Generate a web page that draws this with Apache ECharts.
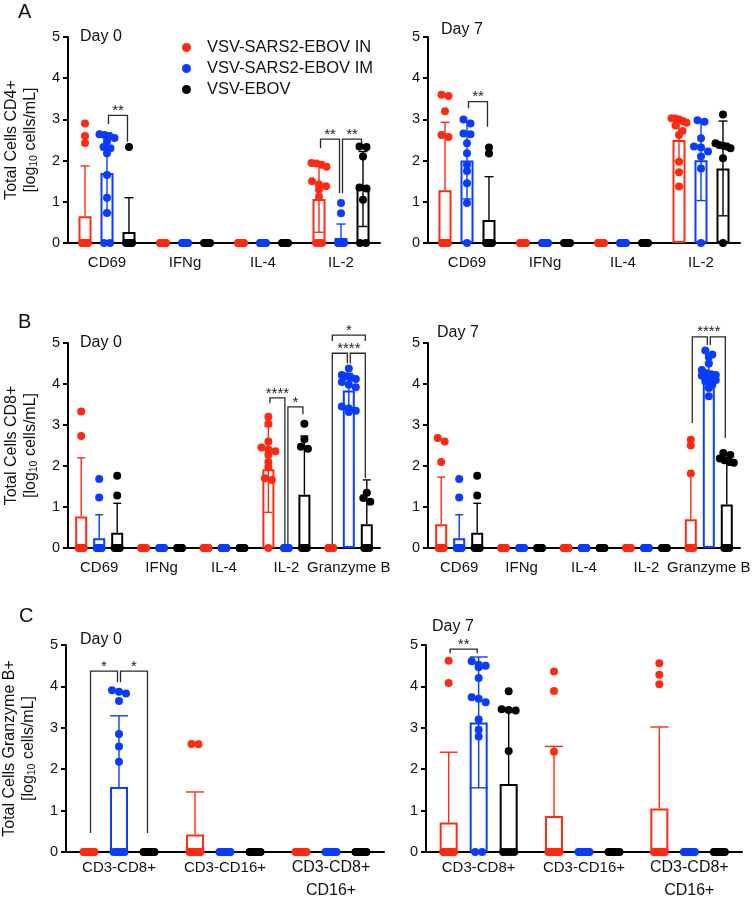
<!DOCTYPE html>
<html>
<head>
<meta charset="utf-8">
<title>Total cells by marker</title>
<script src="https://cdn.jsdelivr.net/npm/echarts@6/dist/echarts.min.js"></script>
<style>
  html, body { margin: 0; padding: 0; background: #fff; }
  #main { width: 754px; height: 900px; }
</style>
</head>
<body>
<div id="main"></div>
<script>
// groups: IN, IM, EBOV
var groupNames = ['VSV-SARS2-EBOV IN', 'VSV-SARS2-EBOV IM', 'VSV-EBOV'];
var groupColors = ['#ff2a12', '#0a3cff', '#000000'];

var catsA = ['CD69', 'IFNg', 'IL-4', 'IL-2'];
var catsB = ['CD69', 'IFNg', 'IL-4', 'IL-2', 'Granzyme B'];
var catsC = ['CD3-CD8+', 'CD3-CD16+', 'CD3-CD8+\nCD16+'];

var yMin = 0, yMax = 5, yStep = 1;

// ---- A, Day 0 ----
var a0Mean = [[0.65, 0, 0, 1.07], [1.70, 0, 0, 0.12], [0.27, 0, 0, 1.31]];
var a0Sd = [[1.22, 0, 0, 0.81], [0.97, 0, 0, 0.34], [0.83, 0, 0, 0.91]];
var a0Pts = [
  [[2.9, 2.6, 2.43, 0, 0, 0, 0, 0, 0, 0, 0, 0], [0, 0, 0, 0, 0, 0, 0, 0, 0, 0, 0, 0], [0, 0, 0, 0, 0, 0, 0, 0, 0, 0, 0, 0], [1.94, 1.93, 1.9, 1.85, 1.5, 1.42, 1.38, 1.3, 1.12, 0, 0, 0]],
  [[2.64, 2.62, 2.6, 2.55, 2.47, 2.33, 2.3, 2.18, 1.65, 1.1, 0.73, 0, 0], [0, 0, 0, 0, 0, 0, 0, 0, 0, 0, 0, 0], [0, 0, 0, 0, 0, 0, 0, 0, 0, 0, 0, 0], [0.97, 0.72, 0, 0, 0, 0, 0, 0, 0, 0, 0, 0]],
  [[2.33, 0, 0, 0, 0, 0, 0, 0, 0], [0, 0, 0, 0, 0, 0, 0, 0], [0, 0, 0, 0, 0, 0, 0, 0], [2.34, 2.33, 2.1, 1.35, 1.32, 1.05, 0, 0]]
];
// [cat, group, cat, group, top, left leg end, right leg end]
var a0Br = [[0, 1, 0, 2, 3.1, 2.89, 2.46], [3, 0, 3, 1, 2.52, 2.3, 1.21], [3, 1, 3, 2, 2.52, 1.21, 2.4]];
// [cat, group position, y, text]
var a0Stars = [[0, 1.5, 3.1, '**'], [3, 0.5, 2.52, '**'], [3, 1.5, 2.52, '**']];

// ---- A, Day 7 ----
var a7Mean = [[1.28, 0, 0, 2.5], [2.0, 0, 0, 2.01], [0.56, 0, 0, 1.81]];
var a7Sd = [[1.65, 0, 0, 0.5], [0.93, 0, 0, 0.98], [1.05, 0, 0, 1.15]];
var a7Pts = [
  [[3.6, 3.57, 3.2, 2.62, 2.57, 0, 0, 0, 0, 0, 0, 0, 0], [0, 0, 0, 0, 0, 0, 0, 0, 0, 0, 0, 0], [0, 0, 0, 0, 0, 0, 0, 0, 0, 0, 0, 0], [3.03, 3.02, 3.0, 2.96, 2.92, 2.85, 2.72, 2.62, 1.97, 1.72, 1.37]],
  [[3.0, 2.9, 2.66, 2.64, 2.42, 2.18, 1.9, 1.75, 1.45, 0.97, 0], [0, 0, 0, 0, 0, 0, 0, 0, 0, 0, 0, 0], [0, 0, 0, 0, 0, 0, 0, 0, 0, 0, 0, 0], [2.98, 2.94, 2.54, 2.34, 2.32, 2.22, 2.1, 1.81, 0]],
  [[2.32, 2.17, 0, 0, 0, 0, 0, 0, 0, 0], [0, 0, 0, 0, 0, 0, 0, 0], [0, 0, 0, 0, 0, 0, 0, 0], [3.12, 2.42, 2.38, 2.36, 2.34, 2.3, 2.06, 0]]
];
var a7Br = [[0, 1, 0, 2, 3.43, 3.27, 2.82]];
var a7Stars = [[0, 1.5, 3.43, '**']];

// ---- B, Day 0 ----
var b0Mean = [[0.77, 0, 0, 1.92, 0], [0.24, 0, 0, 0, 3.84], [0.37, 0, 0, 1.3, 0.58]];
var b0Sd = [[1.43, 0, 0, 1.05, 0], [0.57, 0, 0, 0, 0.42], [0.72, 0, 0, 1.43, 1.08]];
var b0Pts = [
  [[3.33, 2.73, 0, 0, 0, 0, 0, 0, 0, 0, 0], [0, 0, 0, 0, 0, 0, 0, 0, 0, 0, 0, 0], [0, 0, 0, 0, 0, 0, 0, 0, 0, 0, 0, 0], [3.2, 3.03, 2.6, 2.45, 2.4, 2.36, 2.27, 2.1, 1.97, 1.7, 1.66, 0], [0, 0, 0, 0, 0, 0, 0, 0, 0, 0, 0, 0]],
  [[1.68, 1.23, 0, 0, 0, 0, 0, 0, 0, 0, 0], [0, 0, 0, 0, 0, 0, 0, 0, 0, 0, 0, 0], [0, 0, 0, 0, 0, 0, 0, 0, 0, 0, 0, 0], [0, 0, 0, 0, 0, 0, 0, 0, 0, 0, 0, 0], [4.38, 4.22, 4.18, 4.15, 4.12, 4.05, 3.98, 3.92, 3.45, 3.4, 3.35, 3.32]],
  [[1.76, 1.28, 0, 0, 0, 0, 0, 0, 0, 0, 0], [0, 0, 0, 0, 0, 0, 0, 0, 0, 0], [0, 0, 0, 0, 0, 0, 0, 0, 0, 0], [3.03, 2.65, 2.47, 2.42, 0, 0, 0, 0, 0, 0], [1.35, 1.22, 1.13, 0, 0, 0, 0, 0, 0, 0, 0]]
];
var b0Br = [[3, 0, 3, 1, 3.66, 3.53, 0.1], [3, 1, 3, 2, 3.44, 0.1, 3.26], [4, 0, 4, 2, 5.19, 5.05, 5.05], [4, 0, 4, 1, 4.75, 0.1, 4.5], [4, 1, 4, 2, 4.75, 4.5, 1.7]];
var b0Stars = [[3, 0.5, 3.66, '****'], [3, 1.5, 3.44, '*'], [4, 1, 5.19, '*'], [4, 1, 4.75, '****']];

// ---- B, Day 7 ----
var b7Mean = [[0.58, 0, 0, 0, 0.7], [0.24, 0, 0, 0, 4.22], [0.37, 0, 0, 0, 1.06]];
var b7Sd = [[1.15, 0, 0, 0, 1.1], [0.57, 0, 0, 0, 0.3], [0.72, 0, 0, 0, 1.1]];
var b7Pts = [
  [[2.68, 2.6, 2.1, 0, 0, 0, 0, 0, 0, 0, 0, 0], [0, 0, 0, 0, 0, 0, 0, 0, 0, 0, 0, 0], [0, 0, 0, 0, 0, 0, 0, 0, 0, 0, 0, 0], [0, 0, 0, 0, 0, 0, 0, 0, 0, 0, 0, 0], [2.64, 2.5, 1.82, 0, 0, 0, 0, 0, 0, 0, 0, 0]],
  [[1.68, 1.23, 0, 0, 0, 0, 0, 0, 0, 0, 0], [0, 0, 0, 0, 0, 0, 0, 0, 0, 0, 0, 0], [0, 0, 0, 0, 0, 0, 0, 0, 0, 0, 0, 0], [0, 0, 0, 0, 0, 0, 0, 0, 0, 0, 0, 0], [4.82, 4.72, 4.66, 4.5, 4.34, 4.26, 4.24, 4.22, 4.2, 4.18, 4.15, 4.1, 4.06, 3.98, 3.9, 3.7]],
  [[1.76, 1.28, 0, 0, 0, 0, 0, 0, 0, 0, 0], [0, 0, 0, 0, 0, 0, 0, 0, 0, 0], [0, 0, 0, 0, 0, 0, 0, 0, 0, 0], [0, 0, 0, 0, 0, 0, 0, 0, 0, 0], [2.32, 2.27, 2.18, 2.14, 2.1, 2.08, 0, 0, 0, 0, 0, 0]]
];
var b7Br = [[4, 0, 4, 1, 5.15, 3.05, 4.95], [4, 1, 4, 2, 5.15, 4.95, 2.68]];
var b7Stars = [[4, 1, 5.15, '****']];

// ---- C, Day 0 ----
var c0Mean = [[0, 0.42, 0], [1.57, 0, 0], [0, 0, 0]];
var c0Sd = [[0, 1.03, 0], [1.72, 0, 0], [0, 0, 0]];
var c0Pts = [
  [[0, 0, 0, 0, 0, 0, 0, 0, 0, 0, 0, 0], [2.61, 2.6, 0, 0, 0, 0, 0, 0, 0, 0, 0, 0], [0, 0, 0, 0, 0, 0, 0, 0, 0, 0, 0, 0]],
  [[3.91, 3.87, 3.83, 3.65, 2.85, 2.55, 2.18, 0, 0, 0, 0, 0, 0], [0, 0, 0, 0, 0, 0, 0, 0, 0, 0, 0, 0], [0, 0, 0, 0, 0, 0, 0, 0, 0, 0, 0, 0]],
  [[0, 0, 0, 0, 0, 0, 0, 0, 0, 0], [0, 0, 0, 0, 0, 0, 0, 0, 0, 0], [0, 0, 0, 0, 0, 0, 0, 0, 0, 0]]
];
var c0Br = [[0, 0, 0, 1, 4.37, 0.46, 4.1], [0, 1, 0, 2, 4.37, 4.1, 0.46]];
var c0Stars = [[0, 0.5, 4.37, '*'], [0, 1.5, 4.37, '*']];

// ---- C, Day 7 ----
var c7Mean = [[0.71, 0.87, 1.05], [3.13, 0, 0], [1.64, 0, 0]];
var c7Sd = [[1.7, 1.68, 1.97], [1.58, 0, 0], [1.78, 0, 0]];
var c7Pts = [
  [[4.62, 4.08, 0, 0, 0, 0, 0, 0, 0, 0, 0, 0], [4.36, 3.89, 2.42, 0, 0, 0, 0, 0, 0, 0, 0, 0], [4.56, 4.28, 4.05, 0, 0, 0, 0, 0, 0, 0, 0, 0]],
  [[4.61, 4.52, 4.5, 4.46, 4.2, 3.74, 3.7, 3.62, 3.2, 2.95, 2.79, 0, 0], [0, 0, 0, 0, 0, 0, 0, 0, 0, 0, 0, 0], [0, 0, 0, 0, 0, 0, 0, 0, 0, 0, 0, 0]],
  [[3.88, 3.45, 3.43, 3.42, 2.44, 0, 0, 0, 0], [0, 0, 0, 0, 0, 0, 0, 0, 0, 0], [0, 0, 0, 0, 0, 0, 0, 0, 0, 0]]
];
var c7Br = [[0, 0, 0, 1, 4.9, 4.8, 4.8]];
var c7Stars = [[0, 0.5, 4.9, '**']];

var FONT = '"Liberation Sans", Arial, Helvetica, sans-serif';
var INK = '#111';

var yNameCD4 = '{t|Total Cells CD4+}\n{t|[log}{s|10}{t| cells/mL]}';
var yNameCD8 = '{t|Total Cells CD8+}\n{t|[log}{s|10}{t| cells/mL]}';
var yNameGzB = '{t|Total Cells Granzyme B+}\n{t|[log}{s|10}{t| cells/mL]}';

var panels = [
  { cats: catsA, mean: a0Mean, sd: a0Sd, pts: a0Pts, br: a0Br, stars: a0Stars, yName: yNameCD4,
    box: { left: 68, top: 37, width: 312, height: 206 }, barW: 13, off: 22, cap: 9, labelMargin: 8 },
  { cats: catsA, mean: a7Mean, sd: a7Sd, pts: a7Pts, br: a7Br, stars: a7Stars, yName: '',
    box: { left: 428, top: 37, width: 312, height: 206 }, barW: 13, off: 22, cap: 9, labelMargin: 8 },
  { cats: catsB, mean: b0Mean, sd: b0Sd, pts: b0Pts, br: b0Br, stars: b0Stars, yName: yNameCD8,
    box: { left: 68, top: 343, width: 312, height: 205 }, barW: 12, off: 18, cap: 8, labelMargin: 8 },
  { cats: catsB, mean: b7Mean, sd: b7Sd, pts: b7Pts, br: b7Br, stars: b7Stars, yName: '',
    box: { left: 428, top: 343, width: 312, height: 205 }, barW: 12, off: 18, cap: 8, labelMargin: 8 },
  { cats: catsC, mean: c0Mean, sd: c0Sd, pts: c0Pts, br: c0Br, stars: c0Stars, yName: yNameGzB,
    box: { left: 66, top: 645, width: 318, height: 207 }, barW: 18, off: 30, cap: 18, labelMargin: 4 },
  { cats: catsC, mean: c7Mean, sd: c7Sd, pts: c7Pts, br: c7Br, stars: c7Stars, yName: '',
    box: { left: 426, top: 645, width: 316, height: 207 }, barW: 18, off: 30, cap: 18, labelMargin: 4 }
];

// spread the dots of one group sideways, rows of near-equal values
function swarm(vals, w) {
  var sorted = vals.slice().sort(function (a, b) { return b - a; });
  var rows = [];
  sorted.forEach(function (v) {
    var last = rows[rows.length - 1];
    if (last && Math.abs(last[0] - v) < 0.13) last.push(v);
    else rows.push([v]);
  });
  var out = [];
  rows.forEach(function (row) {
    var k = row.length;
    var maxS = row[0] === 0 ? Math.max(w / 2 - 3.5, 1) : w / 2 + 1;
    var s = Math.min((k - 1) * 3.5, maxS);
    row.forEach(function (v, i) {
      out.push([k === 1 ? 0 : -s + 2 * s * i / (k - 1), v]);
    });
  });
  return out;
}

function seg(x1, y1, x2, y2, color, w) {
  return { type: 'line', shape: { x1: x1, y1: y1, x2: x2, y2: y2 }, style: { stroke: color, lineWidth: w } };
}

// error bar + dots for one group of a panel
function groupRenderer(p, g) {
  return function (params, api) {
    var ci = params.dataIndex;
    var m = p.mean[g][ci], s = p.sd[g][ci];
    var xc = api.coord([ci, 0])[0] + (g - 1) * p.off;
    var color = groupColors[g];
    var kids = [];
    if (m > 0 && s > 0) {
      var yM = api.coord([ci, m])[1];
      var yT = api.coord([ci, m + s])[1];
      kids.push(seg(xc, yM, xc, yT, color, 1.4));
      kids.push(seg(xc - p.cap / 2, yT, xc + p.cap / 2, yT, color, 1.4));
      if (m - s > 0) {
        var yB = api.coord([ci, m - s])[1];
        kids.push(seg(xc, yM, xc, yB, color, 1.4));
        kids.push(seg(xc - p.cap / 2, yB, xc + p.cap / 2, yB, color, 1.4));
      }
    }
    swarm(p.pts[g][ci], p.barW).forEach(function (d) {
      var y = api.coord([ci, d[1]])[1];
      kids.push({ type: 'circle', shape: { cx: xc + d[0], cy: y, r: 4 }, style: { fill: color } });
    });
    return { type: 'group', children: kids };
  };
}

function bracketRenderer(p) {
  return function (params, api) {
    var b = p.br[params.dataIndex];
    var xL = api.coord([b[0], 0])[0] + (b[1] - 1) * p.off + 1.5;
    var xR = api.coord([b[2], 0])[0] + (b[3] - 1) * p.off - 1.5;
    var yT = api.coord([b[0], b[4]])[1];
    var yL = api.coord([b[0], b[5]])[1];
    var yR = api.coord([b[0], b[6]])[1];
    return {
      type: 'polyline',
      shape: { points: [[xL, yL], [xL, yT], [xR, yT], [xR, yR]] },
      style: { stroke: '#2b2b2b', lineWidth: 1.3, fill: null }
    };
  };
}

function starRenderer(p) {
  return function (params, api) {
    var st = p.stars[params.dataIndex];
    var x = api.coord([st[0], 0])[0] + (st[1] - 1) * p.off;
    var y = api.coord([st[0], st[2]])[1] + 3;
    return {
      type: 'text', x: x, y: y,
      style: { text: st[3], fill: '#222', font: '15px ' + FONT, align: 'center', verticalAlign: 'bottom' }
    };
  };
}

var grids = [], xAxes = [], yAxes = [], series = [];

panels.forEach(function (p, k) {
  grids.push({ left: p.box.left, top: p.box.top, width: p.box.width, height: p.box.height, outerBoundsMode: 'none' });
  xAxes.push({
    type: 'category', gridIndex: k, data: p.cats,
    axisLine: { lineStyle: { color: '#000', width: 2 } },
    axisTick: { alignWithLabel: true, length: 5, lineStyle: { color: '#000', width: 2 } },
    axisLabel: {
      interval: 0, margin: p.labelMargin, color: INK, fontSize: 15, lineHeight: 23, fontFamily: FONT,
      // the two-line C label is set a bit larger in the source
      formatter: function (v) {
        var key = v.indexOf('\n') > 0 ? 'big' : 'n';
        return v.split('\n').map(function (t) { return '{' + key + '|' + t + '}'; }).join('\n');
      },
      rich: {
        n: { fontSize: 15, lineHeight: 23, fontFamily: FONT, color: INK },
        big: { fontSize: 16, lineHeight: 23, fontFamily: FONT, color: INK }
      }
    },
    splitLine: { show: false }
  });
  yAxes.push({
    type: 'value', gridIndex: k, min: yMin, max: yMax, interval: yStep,
    name: p.yName, nameLocation: 'middle', nameRotate: 90, nameGap: 28,
    nameTextStyle: {
      color: INK, fontFamily: FONT, fontSize: 16,
      rich: {
        t: { fontSize: 16, lineHeight: 19, fontFamily: FONT, color: INK },
        s: { fontSize: 10.5, lineHeight: 19, verticalAlign: 'bottom', fontFamily: FONT, color: INK }
      }
    },
    axisLine: { show: true, lineStyle: { color: '#000', width: 2 } },
    axisTick: { show: true, length: 5, lineStyle: { color: '#000', width: 2 } },
    axisLabel: { margin: 8, color: INK, fontSize: 14.5, fontFamily: FONT },
    splitLine: { show: false }
  });

  var gap = ((p.off - p.barW) / p.barW * 100) + '%';
  for (var g = 0; g < 3; g++) {
    series.push({
      type: 'bar', name: groupNames[g], xAxisIndex: k, yAxisIndex: k,
      barWidth: p.barW, barGap: gap, silent: true, z: 2,
      data: p.mean[g].map(function (v) { return v > 0 ? v : '-'; }),
      itemStyle: { color: '#fff', borderColor: groupColors[g], borderWidth: 2 }
    });
  }
  for (var g2 = 0; g2 < 3; g2++) {
    series.push({
      type: 'custom', xAxisIndex: k, yAxisIndex: k, clip: false, silent: true, z: 4,
      renderItem: groupRenderer(p, g2),
      data: p.mean[g2].map(function (v, i) { return [i, v]; })
    });
  }
  series.push({
    type: 'custom', xAxisIndex: k, yAxisIndex: k, clip: false, silent: true, z: 3,
    renderItem: bracketRenderer(p),
    data: p.br.map(function (b) { return [b[0], b[4]]; })
  });
  series.push({
    type: 'custom', xAxisIndex: k, yAxisIndex: k, clip: false, silent: true, z: 5,
    renderItem: starRenderer(p),
    data: p.stars.map(function (s) { return [s[0], s[2]]; })
  });
});

function label(text, left, top, size) {
  return { text: text, left: left, top: top, padding: 0,
    textStyle: { fontSize: size, fontWeight: 'normal', color: INK, fontFamily: FONT } };
}

var option = {
  animation: false,
  backgroundColor: '#fff',
  title: [
    label('A', 18, 2, 20), label('B', 18, 312, 20), label('C', 19, 606, 20),
    label('Day 0', 80, 29, 16), label('Day 7', 441, 22, 16),
    label('Day 0', 80, 335, 16), label('Day 7', 437, 325, 16),
    label('Day 0', 80, 632, 16), label('Day 7', 432, 619, 16)
  ],
  legend: {
    orient: 'vertical', left: 177, top: 33, itemWidth: 9, itemHeight: 9, itemGap: 2,
    icon: 'circle', selectedMode: false,
    textStyle: { fontSize: 16.5, lineHeight: 19, color: INK, fontFamily: FONT, padding: [0, 0, 0, 11] },
    data: groupNames.map(function (n, i) {
      return { name: n, itemStyle: { color: groupColors[i], borderWidth: 0 } };
    })
  },
  grid: grids,
  xAxis: xAxes,
  yAxis: yAxes,
  series: series
};

var myChart = echarts.init(document.getElementById('main'));
myChart.setOption(option);

window.addEventListener('resize', function () {
  myChart.resize();
});
</script>
</body>
</html>
